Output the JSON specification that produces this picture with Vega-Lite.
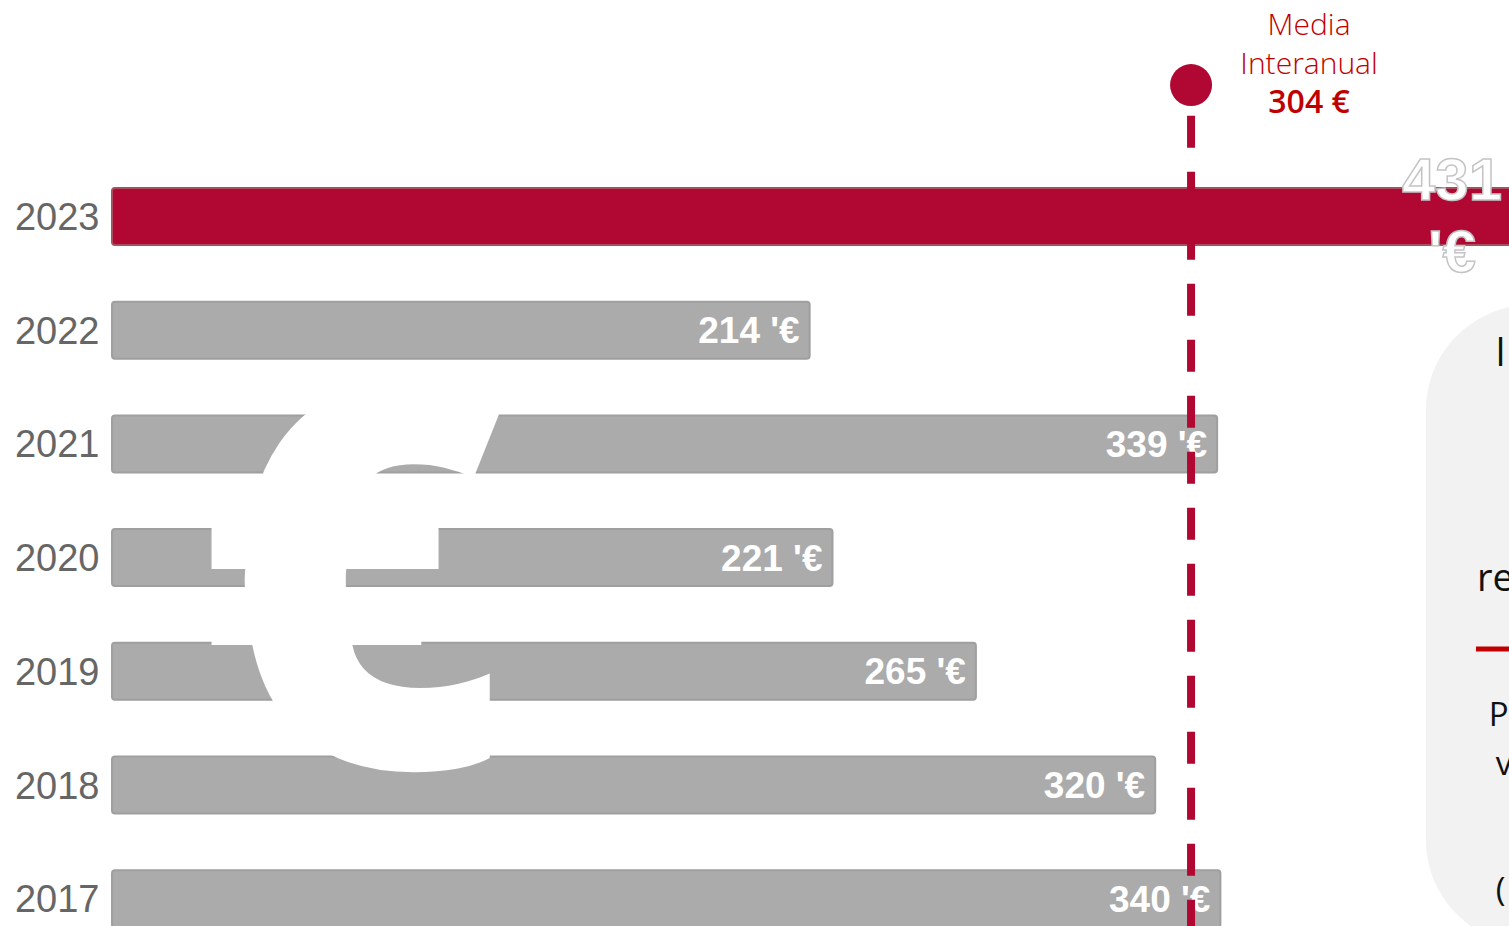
{"$schema":"https://vega.github.io/schema/vega-lite/v6.json","width":1509,"height":926,"padding":0,"autosize":{"type":"none"},"background":"#ffffff","view":{"stroke":null},"config":{"text":{"font":"Open Sans"}},
"datasets":{"bars":[{"year":2023,"value":431,"group":"current","label":"431\n'€"},{"year":2022,"value":214,"group":"past","label":"214 '€"},{"year":2021,"value":339,"group":"past","label":"339 '€"},{"year":2020,"value":221,"group":"past","label":"221 '€"},{"year":2019,"value":265,"group":"past","label":"265 '€"},{"year":2018,"value":320,"group":"past","label":"320 '€"},{"year":2017,"value":340,"group":"past","label":"340 '€"}]},
"layer":[
{"data":{"values":[{"panel":"note"}]},"mark":{"type":"rect","fill":"#f2f2f2","cornerRadius":105,"clip":true},"encoding":{"x":{"datum":403.07,"type":"quantitative","scale":{"domain":[-34.36,428.53],"zero":false,"nice":false,"padding":0},"axis":null},"x2":{"datum":490},"y":{"datum":2022.222,"type":"quantitative","scale":{"domain":[2016.76,2024.904],"zero":false,"nice":false,"padding":0}},"y2":{"datum":2016.593}}},
{"data":{"name":"bars"},"mark":{"type":"bar","orient":"horizontal","size":57,"cornerRadius":3,"clip":true,"strokeWidth":2},"encoding":{"y":{"field":"year","type":"quantitative","axis":{"values":[2017,2018,2019,2020,2021,2022,2023],"format":"d","orient":"left","offset":-104,"domain":false,"ticks":false,"grid":false,"labelPadding":5,"labelFontSize":38,"labelFont":"Liberation Sans","labelColor":"#666666","labelOverlap":false,"labelBound":false,"labelFlush":false,"labelOffset":2,"title":null}},"x":{"field":"value","type":"quantitative","stack":null},"x2":{"datum":0},"color":{"field":"group","type":"nominal","scale":{"domain":["current","past"],"range":["#b00733","#ababab"]},"legend":null},"stroke":{"field":"group","type":"nominal","scale":{"domain":["current","past"],"range":["#a8505f","#9f9f9f"]},"legend":null}}},
{"data":{"values":[{"label":"€"}]},"mark":{"type":"text","font":"Open Sans","fontWeight":800,"fontSize":535,"align":"center","baseline":"middle","fill":"#ffffff"},"encoding":{"x":{"datum":74.2,"type":"quantitative"},"y":{"datum":2019.574,"type":"quantitative"},"text":{"field":"label"}}},
{"data":{"name":"bars"},"transform":[{"filter":"datum.group == 'past'"}],"mark":{"type":"text","font":"Liberation Sans","fontWeight":"bold","fontSize":37,"align":"right","baseline":"middle","dx":-10,"dy":2,"fill":"#ffffff"},"encoding":{"x":{"field":"value","type":"quantitative"},"y":{"field":"year","type":"quantitative"},"text":{"field":"label"}}},
{"data":{"name":"bars"},"transform":[{"filter":"datum.group == 'current'"}],"mark":{"type":"text","font":"Liberation Sans","fontWeight":"bold","fontSize":60,"lineBreak":"\n","lineHeight":72,"align":"center","baseline":"middle","dx":-65,"dy":-34,"fill":"#ffffff","stroke":"#c4c4c4","strokeWidth":1.5},"encoding":{"x":{"field":"value","type":"quantitative"},"y":{"field":"year","type":"quantitative"},"text":{"field":"label"}}},
{"data":{"values":[{"label":"Media"}]},"mark":{"type":"rule","stroke":"#b00733","strokeWidth":8,"strokeDash":[32,24]},"encoding":{"x":{"datum":331,"type":"quantitative"},"y":{"datum":2023.885,"type":"quantitative"},"y2":{"datum":2016.76}}},
{"data":{"values":[{"label":"Media"}]},"mark":{"type":"point","shape":"circle","filled":true,"size":1764,"fill":"#b00733","opacity":1},"encoding":{"x":{"datum":331,"type":"quantitative"},"y":{"datum":2024.156,"type":"quantitative"}}},
{"data":{"values":[{"label":"Media"}]},"mark":{"type":"text","font":"Open Sans","fontSize":30,"fontWeight":300,"align":"center","baseline":"middle","dy":1,"fill":"#c00000"},"encoding":{"x":{"datum":367.2,"type":"quantitative"},"y":{"datum":2024.684,"type":"quantitative"},"text":{"field":"label"}}},
{"data":{"values":[{"label":"Interanual"}]},"mark":{"type":"text","font":"Open Sans","fontSize":30,"fontWeight":300,"align":"center","baseline":"middle","dy":1,"fill":"#c00000"},"encoding":{"x":{"datum":367.2,"type":"quantitative"},"y":{"datum":2024.341,"type":"quantitative"},"text":{"field":"label"}}},
{"data":{"values":[{"label":"304 €"}]},"mark":{"type":"text","font":"Open Sans","fontSize":32,"fontWeight":600,"align":"center","baseline":"middle","dy":1,"fill":"#c00000"},"encoding":{"x":{"datum":367.2,"type":"quantitative"},"y":{"datum":2024.007,"type":"quantitative"},"text":{"field":"label"}}},
{"data":{"values":[{"label":"l"}]},"mark":{"type":"text","font":"Open Sans","fontSize":38,"align":"left","baseline":"middle","fill":"#111111","clip":true},"encoding":{"x":{"datum":424.5,"type":"quantitative"},"y":{"datum":2021.78,"type":"quantitative"},"text":{"field":"label"}}},
{"data":{"values":[{"label":"re"}]},"mark":{"type":"text","font":"Open Sans","fontSize":38,"align":"left","baseline":"middle","fill":"#111111","clip":true},"encoding":{"x":{"datum":418.7,"type":"quantitative"},"y":{"datum":2019.8,"type":"quantitative"},"text":{"field":"label"}}},
{"data":{"values":[{"label":"P"}]},"mark":{"type":"text","font":"Open Sans","fontSize":33,"align":"left","baseline":"middle","fill":"#111111","clip":true},"encoding":{"x":{"datum":422.3,"type":"quantitative"},"y":{"datum":2018.606,"type":"quantitative"},"text":{"field":"label"}}},
{"data":{"values":[{"label":"v"}]},"mark":{"type":"text","font":"Open Sans","fontSize":33,"align":"left","baseline":"middle","fill":"#111111","clip":true},"encoding":{"x":{"datum":424.5,"type":"quantitative"},"y":{"datum":2018.18,"type":"quantitative"},"text":{"field":"label"}}},
{"data":{"values":[{"label":"("}]},"mark":{"type":"text","font":"Open Sans","fontSize":33,"align":"left","baseline":"middle","fill":"#111111","clip":true},"encoding":{"x":{"datum":424.5,"type":"quantitative"},"y":{"datum":2017.065,"type":"quantitative"},"text":{"field":"label"}}},
{"data":{"values":[{"label":"divider"}]},"mark":{"type":"rule","stroke":"#c00000","strokeWidth":5,"clip":true},"encoding":{"x":{"datum":418.4,"type":"quantitative"},"x2":{"datum":440},"y":{"datum":2019.196,"type":"quantitative"}}}
]}
